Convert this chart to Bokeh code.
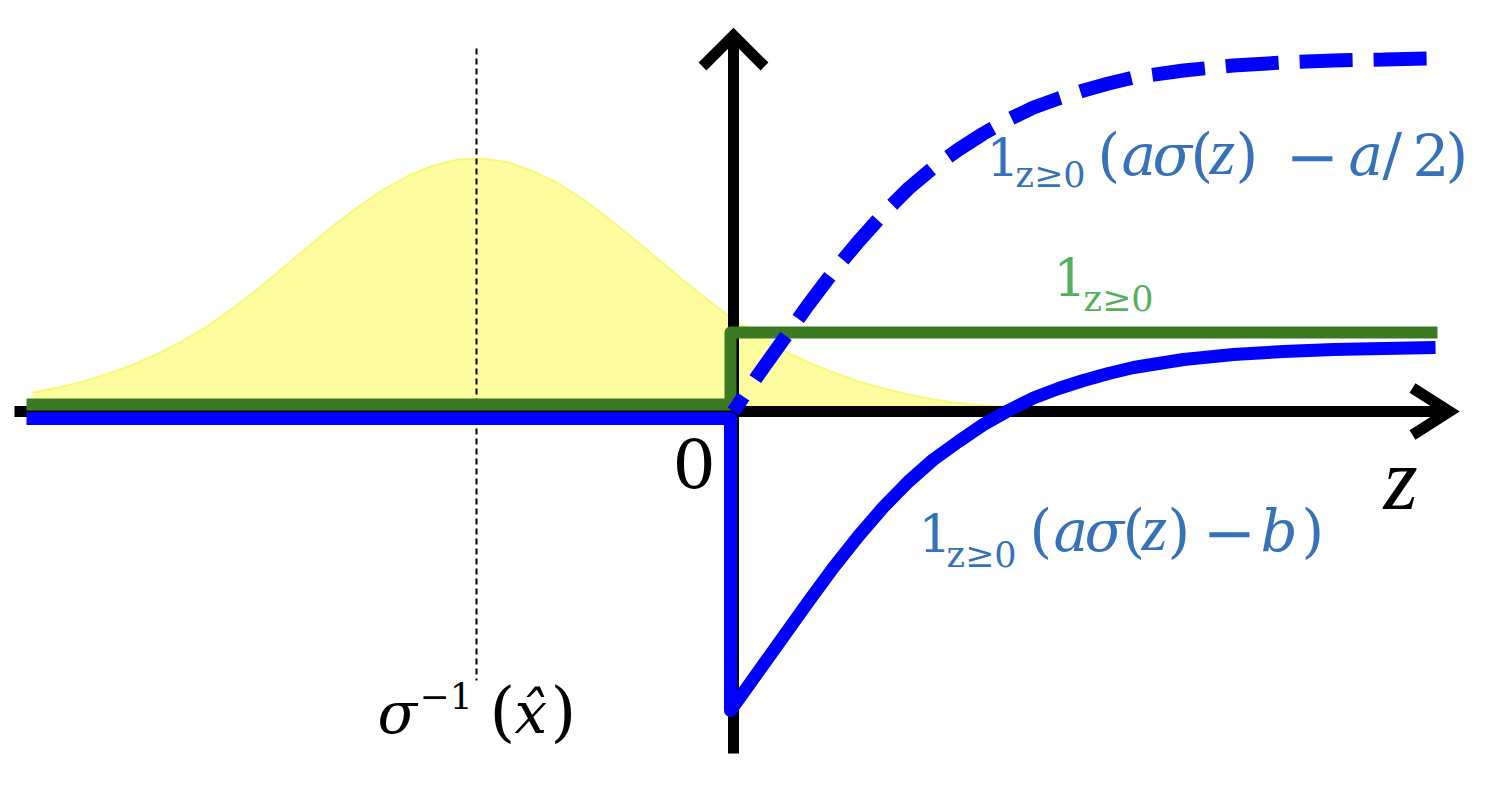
from bokeh.plotting import figure
from bokeh.models import Range1d
from bokeh.embed import file_html
from bokeh.resources import INLINE
from bokeh.core.properties import value

# ---------------- data ----------------
# yellow bell curve (density of z)
bell_z = [-7.01, -6.75, -6.5, -6.25, -6.0, -5.75, -5.5, -5.25, -5.0, -4.75, -4.5, -4.25,
          -4.0, -3.75, -3.5, -3.25, -3.0, -2.75, -2.5, -2.25, -2.0, -1.75, -1.5, -1.25,
          -1.0, -0.75, -0.5, -0.25, 0.0, 0.25, 0.5, 0.75, 1.0, 1.25, 1.5, 1.75, 2.0,
          2.25, 2.5, 2.75]
bell_y = [0.19, 0.24, 0.30, 0.38, 0.47, 0.58, 0.71, 0.86, 1.04, 1.23, 1.44, 1.65,
          1.86, 2.05, 2.22, 2.36, 2.46, 2.52, 2.53, 2.49, 2.40, 2.28, 2.12, 1.93,
          1.73, 1.52, 1.31, 1.11, 0.92, 0.76, 0.61, 0.49, 0.39, 0.30, 0.23, 0.17, 0.12,
          0.085, 0.06, 0.04]

# green step 1_{z>=0}
green_z = [-7.07, -0.03, -0.03, 7.04]
green_y = [0.07, 0.07, 0.79, 0.79]

# solid blue: 1_{z>=0}(a sigma(z) - b)
blue_left_z = [-7.07, -0.03]
blue_left_y = [-0.07, -0.07]
solid_z = [-0.03, 0.10, 0.25, 0.50, 0.75, 1.00, 1.25, 1.50, 1.75, 2.00, 2.25, 2.50,
           2.75, 3.00, 3.25, 3.50, 3.75, 4.00, 4.50, 5.00, 5.50, 6.00, 6.50, 7.02]
solid_y = [-2.99, -2.81, -2.60, -2.25, -1.90, -1.56, -1.245, -0.955, -0.70, -0.48, -0.30, -0.13,
           0.01, 0.135, 0.23, 0.31, 0.38, 0.44, 0.52, 0.57, 0.60, 0.62, 0.63, 0.64]

# dashed blue: 1_{z>=0}(a sigma(z) - a/2)
dashed_z = [0.00, 0.10, 0.25, 0.50, 0.75, 1.00, 1.25, 1.50, 1.75, 2.00, 2.25, 2.50,
            2.75, 3.00, 3.25, 3.50, 3.75, 4.00, 4.50, 5.00, 5.50, 6.00, 6.50, 6.97]
dashed_y = [0.00, 0.15, 0.37, 0.72, 1.07, 1.40, 1.70, 1.98, 2.23, 2.44, 2.62, 2.78,
            2.92, 3.04, 3.13, 3.21, 3.28, 3.34, 3.41, 3.46, 3.49, 3.51, 3.52, 3.53]

# sigma^{-1}(x_hat) marker
marker_z = -2.57
marker_y = [3.63, -2.69]

# axes extents
xaxis_z = [-7.19, 7.16]
yaxis_y = [-3.42, 3.76]

# ---------------- figure ----------------
p = figure(width=1486, height=790, x_range=Range1d(-7.33, 7.53), y_range=Range1d(-3.79, 4.11),
           output_backend="svg", toolbar_location=None, x_axis_type=None, y_axis_type=None,
           min_border=0, outline_line_color=None, background_fill_color="white",
           border_fill_color="white")

# bell
p.varea(x=bell_z, y1=[0] * len(bell_z), y2=bell_y, fill_color="#fdfd9f", fill_alpha=1.0)
p.line(bell_z, bell_y, line_color="#f8f87c", line_width=2)

# dashed marker
p.line([marker_z, marker_z], marker_y, line_color="black", line_width=2, line_dash="6 4")

# axes
AX_W = 11
p.line(xaxis_z, [0, 0], line_color="black", line_width=AX_W)
p.line([0, 0], yaxis_y, line_color="black", line_width=AX_W)
xt = xaxis_z[1]
p.line([xt - 0.37, xt, xt - 0.37], [0.235, 0, -0.235], line_color="black", line_width=AX_W,
       line_join="miter")
yt = yaxis_y[1]
p.line([-0.31, 0, 0.31], [yt - 0.31, yt, yt - 0.31], line_color="black", line_width=AX_W,
       line_join="miter")

# green step
p.line(green_z, green_y, line_color="#3a7a22", line_width=12, line_join="round")

# blue solid
p.line(blue_left_z + solid_z, blue_left_y + solid_y, line_color="#0000ff", line_width=13,
       line_join="round")

# blue dashed
p.line(dashed_z, dashed_y, line_color="#0000ff", line_width=14, line_dash="53 21",
       line_dash_offset=35)

# ---------------- texts ----------------
BLUE = "#3572b9"
GREEN = "#54b05c"
SERIF = "DejaVu Serif"
TIMES = "Liberation Serif"
BASE_FIX = 0.0039   # baseline correction (data units per px of font size)

def txt(s, x, y, size, style="normal", color="black", font=SERIF):
    p.text(x=[x], y=[y + BASE_FIX * size], text=[s], text_font=value(font),
           text_font_size=f"{size}px", text_font_style=style, text_color=color,
           text_align="left", text_baseline="alphabetic")

ONE = 52      # the leading "1"
SUB = 35      # subscript z>=0
UP = 58       # upright symbols
IT = 58       # italic letters
ZS = 66       # italic z (Liberation Serif)
MINUS = 64

def piece(s, x, y, color):
    if s == "z":
        txt(s, x, y, ZS, "italic", color, TIMES)
    elif s in ("a", "σ", "b"):
        txt(s, x, y, IT, "italic", color)
    elif s == "−":
        txt(s, x, y - 0.03, MINUS, "normal", color)
    else:
        txt(s, x, y, UP, "normal", color)

# 1_{z>=0}(a sigma(z) - a/2)
y1, s1 = 2.34, 2.23
txt("1", 2.53, y1, ONE, color=BLUE)
txt("z≥0", 2.82, s1, SUB, color=BLUE)
for s, x in [("(", 3.64), ("a", 3.88), ("σ", 4.19), ("(", 4.57), ("z", 4.76), (")", 5.02),
             ("−", 5.52), ("a", 6.15), ("/", 6.49), ("2", 6.79), (")", 7.12)]:
    piece(s, x, y1, BLUE)

# 1_{z>=0}
txt("1", 3.20, 1.14, ONE, color=GREEN)
txt("z≥0", 3.50, 0.99, SUB, color=GREEN)

# 1_{z>=0}(a sigma(z) - b)
y3, s3 = -1.42, -1.57
txt("1", 1.85, y3, ONE, color=BLUE)
txt("z≥0", 2.13, s3, SUB, color=BLUE)
for s, x in [("(", 2.96), ("a", 3.20), ("σ", 3.51), ("(", 3.89), ("z", 4.08), (")", 4.34),
             ("−", 4.69), ("b", 5.27), (")", 5.68)]:
    piece(s, x, y3, BLUE)

# axis texts
txt("0", -0.61, -0.79, 68)
txt("z", 6.50, -1.02, 88, "italic", font=TIMES)

# sigma^{-1}(x_hat)
txt("σ", -3.56, -3.24, 58, "italic")
txt("−1", -3.14, -2.99, 36)
txt("(", -2.44, -3.26, 66)
txt("x\u0302", -2.19, -3.24, 58, "italic")
txt(")", -1.83, -3.26, 66)

open("out.html", "w").write(file_html(p, INLINE))
